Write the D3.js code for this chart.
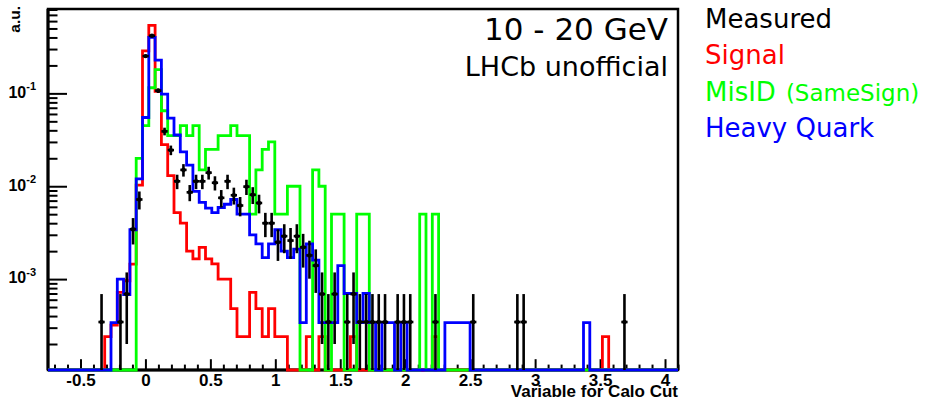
<!DOCTYPE html>
<html>
<head>
<meta charset="utf-8">
<script src="https://cdn.jsdelivr.net/npm/d3@7"></script>
<style>
  body { margin: 0; background: #fff; }
  svg { display: block; }
</style>
</head>
<body>
<svg width="927" height="400"></svg>
<script>
// histogram binning
const xMin = -0.75, xMax = 4.1, nBins = 100;

const signal = [
  0, 0, 0, 0, 0, 0, 0, 0, 0, 2.4e-4,
  3.2e-4, 7.2e-4, 9.6e-4, 1.45e-3, 0.0103, 0.287, 0.54, 0.105, 0.028, 0.013,
  0.0052, 0.0040, 0.0020, 0.00165, 0.0022, 0.00165, 0.00146, 0.0010, 0.0010, 4.8e-4,
  2.4e-4, 2.4e-4, 7.2e-4, 4.8e-4, 2.4e-4, 4.8e-4, 2.4e-4, 2.4e-4, 0, 0,
  0, 2.4e-4, 0, 2.4e-4, 0, 0, 0, 0, 2.4e-4, 0,
  0, 0, 0, 0, 0, 0, 0, 0, 0, 0,
  0, 2.4e-4, 0, 0, 0, 0, 0, 0, 0, 0,
  0, 0, 0, 0, 0, 0, 0, 0, 0, 0,
  0, 0, 0, 0, 0, 0, 0, 0, 2.4e-4, 0,
  0, 0, 0, 0, 0, 0, 0, 0, 0, 0
];

const misID = [
  0, 0, 0, 0, 0, 0, 0, 0, 0, 0,
  0, 0, 0, 0, 0.020, 0.045, 0.115, 0.18, 0.065, 0.035,
  0.035, 0.045, 0.035, 0.045, 0.015, 0.025, 0.025, 0.035, 0.035, 0.045,
  0.035, 0.035, 0.005, 0.015, 0.025, 0.030, 0.005, 0.005, 0.010, 0.010,
  0, 0, 0.015, 0.010, 0, 0.005, 0.005, 0, 0, 0.005,
  0.005, 0, 0, 0, 0, 0, 0, 0, 0, 0.005,
  0, 0.005, 0, 0, 0, 0, 0, 0, 0, 0,
  0, 0, 0, 0, 0, 0, 0, 0, 0, 0,
  0, 0, 0, 0, 0, 0, 0, 0, 0, 0,
  0, 0, 0, 0, 0, 0, 0, 0, 0, 0
];

const heavyQuark = [
  0, 0, 0, 0, 0, 0, 0, 0, 0, 0,
  3.4e-4, 1.0e-3, 6.8e-4, 3.4e-3, 0.012, 0.055, 0.40, 0.228, 0.098, 0.054,
  0.0356, 0.0235, 0.0169, 0.0088, 0.0067, 0.0058, 0.0052, 0.0059, 0.0064, 0.0072,
  0.0050, 0.0050, 0.0030, 0.0024, 0.0017, 0.0024, 0.0034, 0.0020, 0.0017, 0.0021,
  3.4e-4, 0.0024, 0.0016, 3.4e-4, 3.4e-4, 3.4e-4, 0.0014, 7e-4, 7e-4, 3.4e-4,
  7e-4, 3.4e-4, 0, 3.4e-4, 3.4e-4, 0, 3.4e-4, 0, 0, 0,
  0, 0, 0, 3.4e-4, 3.4e-4, 3.4e-4, 3.4e-4, 0, 0, 0,
  0, 0, 0, 0, 0, 0, 0, 0, 0, 0,
  0, 0, 0, 0, 0, 3.4e-4, 0, 0, 0, 0,
  0, 0, 0, 0, 0, 0, 0, 0, 0, 0
];

const measured = [
  0, 0, 0, 0, 0, 0, 0, 0, 3.45e-4, 0,
  0, 3.45e-4, 6.9e-4, 3.45e-3, 7.2e-3, 0.252, 0.417, 0.107, 0.039, 0.0245,
  0.0113, 0.0150, 0.0086, 0.0113, 0.0113, 0.0140, 0.0109, 0.0075, 0.0113, 0.0080,
  0.0062, 0.0099, 0.0081, 0.0066, 0.0040, 0.0040, 0.0025, 0.0029, 0.0026, 0.0029,
  0.0022, 0.0018, 0.0014, 6.9e-4, 3.45e-4, 6.9e-4, 0, 3.45e-4, 6.9e-4, 3.45e-4,
  3.45e-4, 3.45e-4, 3.45e-4, 3.45e-4, 0, 3.45e-4, 3.45e-4, 3.45e-4, 0, 0,
  0, 3.45e-4, 0, 0, 0, 0, 0, 3.45e-4, 0, 0,
  0, 0, 0, 0, 3.45e-4, 3.45e-4, 0, 0, 0, 0,
  0, 0, 0, 0, 0, 0, 0, 0, 0, 0,
  0, 3.45e-4, 0, 0, 0, 0, 0, 0, 0, 0
];

const measuredErr = [
  0, 0, 0, 0, 0, 0, 0, 0, 3.45e-4, 0,
  0, 3.45e-4, 4.9e-4, 1.09e-3, 1.58e-3, 9.3e-3, 0.012, 6.1e-3, 3.7e-3, 2.9e-3,
  2.0e-3, 2.3e-3, 1.7e-3, 2.0e-3, 2.0e-3, 2.2e-3, 1.9e-3, 1.6e-3, 2.0e-3, 1.65e-3,
  1.46e-3, 1.85e-3, 1.67e-3, 1.5e-3, 1.17e-3, 1.17e-3, 9.3e-4, 1.0e-3, 9.5e-4, 1.0e-3,
  8.7e-4, 7.9e-4, 6.9e-4, 4.9e-4, 3.45e-4, 4.9e-4, 0, 3.45e-4, 4.9e-4, 3.45e-4,
  3.45e-4, 3.45e-4, 3.45e-4, 3.45e-4, 0, 3.45e-4, 3.45e-4, 3.45e-4, 0, 0,
  0, 3.45e-4, 0, 0, 0, 0, 0, 3.45e-4, 0, 0,
  0, 0, 0, 0, 3.45e-4, 3.45e-4, 0, 0, 0, 0,
  0, 0, 0, 0, 0, 0, 0, 0, 0, 0,
  0, 3.45e-4, 0, 0, 0, 0, 0, 0, 0, 0
];

const xMajorTicks = [-0.5, 0, 0.5, 1, 1.5, 2, 2.5, 3, 3.5, 4];
const yMajorTicks = [1e-3, 1e-2, 1e-1];
const yTickLabels = ["-3", "-2", "-1"];

const legend = [
  { label: "Measured", extra: "", color: "#000000" },
  { label: "Signal", extra: "", color: "#ff0000" },
  { label: "MisID", extra: "(SameSign)", color: "#00ff00" },
  { label: "Heavy Quark", extra: "", color: "#0000ff" }
];

const svg = d3.select("svg"),
    frame = { left: 48, top: 9, right: 678, bottom: 370 };

const yMin = 1.05e-4, yMax = 0.81;

const x = d3.scaleLinear().domain([xMin, xMax]).range([frame.left, frame.right]);
const y = d3.scaleLog().domain([yMin, yMax]).range([frame.bottom, frame.top]);
const yc = v => y(Math.max(v, yMin));

const binW = (xMax - xMin) / nBins;
const edges = d3.range(nBins + 1).map(i => xMin + i * binW);

const font = "'Liberation Sans', Arial, Helvetica, sans-serif";

// frame
svg.append("rect")
    .attr("x", frame.left).attr("y", frame.top)
    .attr("width", frame.right - frame.left).attr("height", frame.bottom - frame.top)
    .attr("fill", "none").attr("stroke", "#000").attr("stroke-width", 2.5);

// x axis
const xMinor = d3.range(-7, 42).map(i => i / 10).filter(v => Math.abs(v * 2 - Math.round(v * 2)) > 1e-6);
const gxMinor = svg.append("g")
    .attr("transform", `translate(0,${frame.bottom})`)
    .call(d3.axisBottom(x).tickValues(xMinor).tickSize(-5.4).tickFormat(""));
gxMinor.select(".domain").remove();

const gx = svg.append("g")
    .attr("transform", `translate(0,${frame.bottom})`)
    .call(d3.axisBottom(x).tickValues(xMajorTicks).tickSize(-10.8).tickPadding(4).tickFormat(d => String(d)));
gx.select(".domain").remove();
gx.selectAll("text")
    .attr("font-family", font).attr("font-weight", "bold").attr("font-size", 17).attr("fill", "#000");

// y axis
const yMinor = [];
[1e-4, 1e-3, 1e-2, 1e-1].forEach(d => d3.range(2, 10).forEach(m => {
  const v = m * d;
  if (v > yMin && v < yMax) yMinor.push(v);
}));
const gyMinor = svg.append("g")
    .attr("transform", `translate(${frame.left},0)`)
    .call(d3.axisLeft(y).tickValues(yMinor).tickSize(-9.5).tickFormat(""));
gyMinor.select(".domain").remove();

const gy = svg.append("g")
    .attr("transform", `translate(${frame.left},0)`)
    .call(d3.axisLeft(y).tickValues(yMajorTicks).tickSize(-19).tickPadding(12).tickFormat(""));
gy.select(".domain").remove();
gy.selectAll(".tick text").each(function(d, i) {
  const t = d3.select(this)
      .attr("font-family", font).attr("font-weight", "bold").attr("fill", "#000")
      .attr("dy", "0.38em");
  t.append("tspan").attr("font-size", 16).text("10");
  t.append("tspan").attr("font-size", 11).attr("dy", "-0.7em").text(yTickLabels[i]);
});
svg.selectAll(".tick line").attr("stroke-width", 2);

// axis lines on top of frame
svg.append("line")
    .attr("x1", frame.left).attr("x2", frame.right)
    .attr("y1", frame.bottom).attr("y2", frame.bottom)
    .attr("stroke", "#000").attr("stroke-width", 3);
svg.append("line")
    .attr("x1", frame.left).attr("x2", frame.left)
    .attr("y1", frame.top).attr("y2", frame.bottom)
    .attr("stroke", "#000").attr("stroke-width", 3);

// axis titles
svg.append("text")
    .attr("x", frame.right).attr("y", 397)
    .attr("text-anchor", "end")
    .attr("font-family", font).attr("font-weight", "bold").attr("font-size", 17)
    .text("Variable for Calo Cut");

svg.append("text")
    .attr("transform", `translate(20,6) rotate(-90)`)
    .attr("text-anchor", "end")
    .attr("font-family", font).attr("font-weight", "bold").attr("font-size", 15.5)
    .text("a.u.");

// histograms
const step = d3.line()
    .x(d => x(d[0]))
    .y(d => yc(d[1]))
    .curve(d3.curveStepAfter);

function histPoints(values) {
  const pts = values.map((v, i) => [edges[i], v]);
  pts.push([edges[nBins], values[nBins - 1]]);
  return pts;
}

[[signal, "#ff0000"], [misID, "#00ff00"], [heavyQuark, "#0000ff"]].forEach(([vals, col]) => {
  svg.append("path")
      .datum(histPoints(vals))
      .attr("d", step)
      .attr("fill", "none")
      .attr("stroke", col)
      .attr("stroke-width", 2.8)
      .attr("stroke-linejoin", "miter");
});

// measured points with error bars
const pts = measured.map((v, i) => ({ v, e: measuredErr[i], lo: edges[i], hi: edges[i + 1] }))
    .filter(d => d.v > 0);
const gm = svg.append("g");
gm.selectAll("line.ey")
    .data(pts).enter().append("line")
    .attr("class", "ey")
    .attr("x1", d => x((d.lo + d.hi) / 2)).attr("x2", d => x((d.lo + d.hi) / 2))
    .attr("y1", d => yc(d.v + d.e)).attr("y2", d => yc(d.v - d.e))
    .attr("stroke", "#000").attr("stroke-width", 2.6);
gm.selectAll("line.ex")
    .data(pts).enter().append("line")
    .attr("class", "ex")
    .attr("x1", d => x(d.lo)).attr("x2", d => x(d.hi))
    .attr("y1", d => yc(d.v)).attr("y2", d => yc(d.v))
    .attr("stroke", "#000").attr("stroke-width", 2.6);
gm.selectAll("circle")
    .data(pts).enter().append("circle")
    .attr("cx", d => x((d.lo + d.hi) / 2)).attr("cy", d => yc(d.v))
    .attr("r", 2.2).attr("fill", "#000");

// labels in the frame
const dejavu = "'DejaVu Sans', sans-serif";
svg.append("text")
    .attr("x", 668).attr("y", 40)
    .attr("text-anchor", "end")
    .attr("font-family", dejavu).attr("font-size", 31)
    .text("10 - 20 GeV");
svg.append("text")
    .attr("x", 668).attr("y", 76)
    .attr("text-anchor", "end")
    .attr("font-family", dejavu).attr("font-size", 27)
    .text("LHCb unofficial");

// legend
const lg = svg.append("g").attr("font-family", dejavu);
legend.forEach((d, i) => {
  const t = lg.append("text")
      .attr("x", 705).attr("y", 28 + i * 36.3)
      .attr("fill", d.color).attr("font-size", 26);
  t.append("tspan").text(d.label);
  if (d.extra) t.append("tspan").attr("font-size", 23).attr("dx", 10).text(d.extra);
});
</script>
</body>
</html>
